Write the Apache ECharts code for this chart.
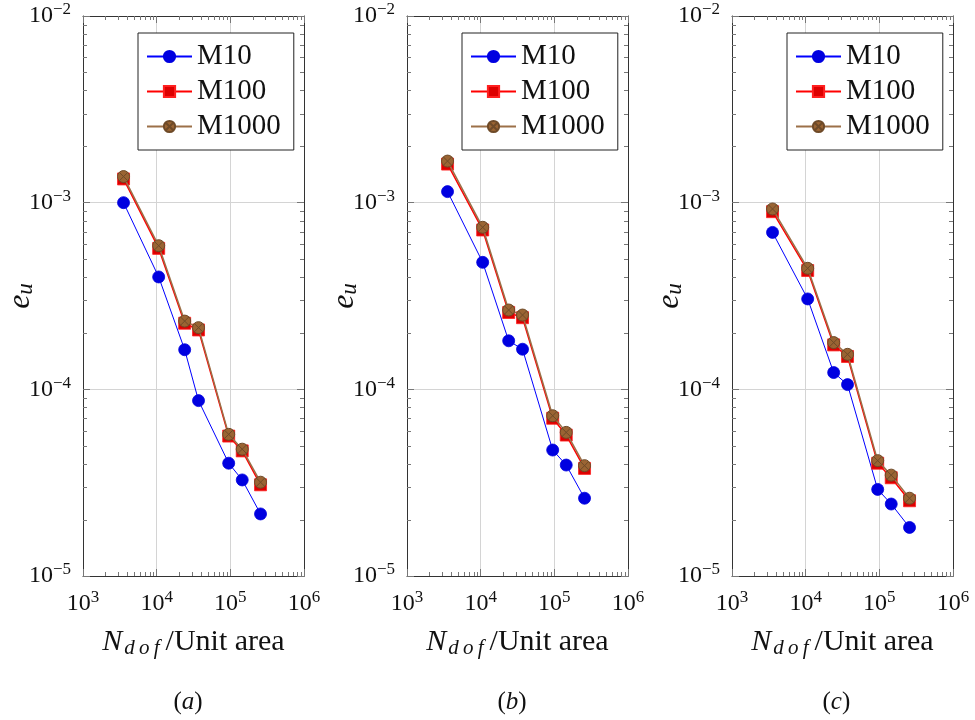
<!DOCTYPE html>
<html>
<head>
<meta charset="utf-8">
<script src="https://cdn.jsdelivr.net/npm/echarts@6/dist/echarts.min.js"></script>
<style>
  html, body { margin: 0; padding: 0; background: #fff; }
  #chart { width: 975px; height: 720px; }
</style>
</head>
<body>
<div id="chart"></div>
<script>
// Degrees of freedom per unit area (shared by all three panels)
const nDof = [3550, 10650, 24000, 37000, 95000, 145000, 257000];

// Panel (a)
const m10A   = [1.0e-3, 4.0e-4, 1.63e-4, 8.7e-5, 4.02e-5, 3.27e-5, 2.15e-5];
const m100A  = [1.34e-3, 5.69e-4, 2.26e-4, 2.08e-4, 5.62e-5, 4.68e-5, 3.08e-5];
const m1000A = [1.38e-3, 5.88e-4, 2.32e-4, 2.14e-4, 5.74e-5, 4.78e-5, 3.18e-5];

// Panel (b)
const m10B   = [1.146e-3, 4.79e-4, 1.82e-4, 1.64e-4, 4.73e-5, 3.93e-5, 2.61e-5];
const m100B  = [1.61e-3, 7.14e-4, 2.58e-4, 2.42e-4, 7.0e-5, 5.69e-5, 3.77e-5];
const m1000B = [1.67e-3, 7.38e-4, 2.66e-4, 2.50e-4, 7.22e-5, 5.88e-5, 3.90e-5];

// Panel (c)
const m10C   = [6.93e-4, 3.05e-4, 1.23e-4, 1.06e-4, 2.91e-5, 2.43e-5, 1.82e-5];
const m100C  = [8.95e-4, 4.33e-4, 1.73e-4, 1.50e-4, 4.02e-5, 3.36e-5, 2.53e-5];
const m1000C = [9.25e-4, 4.45e-4, 1.78e-4, 1.54e-4, 4.15e-5, 3.47e-5, 2.61e-5];

const seriesNames = ['M10', 'M100', 'M1000'];
const panelLetters = ['a', 'b', 'c'];
const panelData = [
  [m10A, m100A, m1000A],
  [m10B, m100B, m1000B],
  [m10C, m100C, m1000C]
];

const xRange = [1e3, 1e6];
const yRange = [1e-5, 1e-2];

const FONT = '"Liberation Serif", "DejaVu Serif", serif';
const gridLefts = [83, 407, 732];
const GRID_TOP = 16, GRID_W = 221, GRID_H = 560;

const otimes = 'path://M0,-10A10,10,0,1,1,0,10A10,10,0,1,1,0,-10ZM-7.07,-7.07L7.07,7.07M7.07,-7.07L-7.07,7.07';

const styles = [
  { color: '#0000ff', fill: '#0000e0', border: '#0000e0', width: 1, symbol: 'circle', size: 12 },
  { color: '#ff0000', fill: '#dd0000', border: '#ff2020', width: 1.5, symbol: 'rect', size: 12 },
  { color: '#9c7048', fill: '#9a6433', border: '#6e4a28', width: 1.5, symbol: otimes, size: 12 }
];

function powLabel(v) {
  const e = Math.round(Math.log10(v));
  const s = e < 0 ? '\u2212' + (-e) : String(e);
  return '{b|10}{s|' + s + '}';
}
const powRich = {
  b: { fontFamily: FONT, fontSize: 24, color: '#111' },
  s: { fontFamily: FONT, fontSize: 17, color: '#111', padding: [0, 0, 12, 0] }
};

// Minor tick values at 2..9 x 10^k inside an axis range
function minorValues(range) {
  const out = [];
  const k0 = Math.round(Math.log10(range[0]));
  const k1 = Math.round(Math.log10(range[1]));
  for (let k = k0; k < k1; k++) {
    for (let m = 2; m <= 9; m++) out.push(m * Math.pow(10, k));
  }
  return out;
}

const grid = [], xAxis = [], yAxis = [], series = [], legend = [], graphic = [];

panelData.forEach((sets, p) => {
  grid.push({
    left: gridLefts[p], top: GRID_TOP, width: GRID_W, height: GRID_H,
    containLabel: false, outerBoundsMode: 'none'
  });

  const common = {
    type: 'log', logBase: 10, gridIndex: p,
    axisLine: { show: true, onZero: false, lineStyle: { color: '#333', width: 1 } },
    axisTick: { show: true, inside: true, length: 7, lineStyle: { color: '#777', width: 1 } },
    minorTick: { show: false }
  };
  // bottom + top x axes
  xAxis.push(Object.assign({}, common, {
    min: xRange[0], max: xRange[1], position: 'bottom',
    axisLabel: { margin: 13, formatter: powLabel, rich: powRich },
    splitLine: { show: true, lineStyle: { color: '#d4d4d4', width: 1 } },
    name: '{n|N}{d|d\u2009o\u2009f}{r|\u2009/Unit area}',
    nameLocation: 'middle', nameGap: 50,
    nameTextStyle: {
      rich: {
        n: { fontFamily: FONT, fontStyle: 'italic', fontSize: 30, color: '#111' },
        d: { fontFamily: FONT, fontStyle: 'italic', fontSize: 21, color: '#111', padding: [12, 0, 0, 2] },
        r: { fontFamily: FONT, fontSize: 30, color: '#111' }
      }
    }
  }));
  xAxis.push(Object.assign({}, common, {
    min: xRange[0], max: xRange[1], position: 'top',
    axisLabel: { show: false }, splitLine: { show: false }
  }));
  // left + right y axes
  yAxis.push(Object.assign({}, common, {
    min: yRange[0], max: yRange[1], position: 'left',
    axisLabel: { margin: 12, formatter: powLabel, rich: powRich },
    splitLine: { show: true, lineStyle: { color: '#d4d4d4', width: 1 } }
  }));
  yAxis.push(Object.assign({}, common, {
    min: yRange[0], max: yRange[1], position: 'right',
    axisLabel: { show: false }, splitLine: { show: false }
  }));

  const xi = 2 * p, yi = 2 * p;

  // minor ticks on all four sides
  const ticks = [];
  minorValues(xRange).forEach(v => ticks.push([v, yRange[0], 0]));
  minorValues(yRange).forEach(v => ticks.push([xRange[0], v, 1]));
  series.push({
    type: 'custom', xAxisIndex: xi, yAxisIndex: yi, silent: true, z: 1,
    data: ticks,
    renderItem: function (params, api) {
      const v0 = api.value(0), v1 = api.value(1), kind = api.value(2);
      const L = 4;
      const st = { stroke: '#777', lineWidth: 1 };
      if (kind === 0) {
        const b = api.coord([v0, yRange[0]]);
        const t = api.coord([v0, yRange[1]]);
        const x = Math.round(b[0]) + 0.5;
        return { type: 'group', children: [
          { type: 'line', shape: { x1: x, y1: b[1], x2: x, y2: b[1] - L }, style: st },
          { type: 'line', shape: { x1: x, y1: t[1], x2: x, y2: t[1] + L }, style: st }
        ]};
      } else {
        const l = api.coord([xRange[0], v1]);
        const r = api.coord([xRange[1], v1]);
        const y = Math.round(l[1]) + 0.5;
        return { type: 'group', children: [
          { type: 'line', shape: { x1: l[0], y1: y, x2: l[0] + L, y2: y }, style: st },
          { type: 'line', shape: { x1: r[0], y1: y, x2: r[0] - L, y2: y }, style: st }
        ]};
      }
    }
  });

  sets.forEach((vals, s) => {
    const st = styles[s];
    series.push({
      type: 'line', name: seriesNames[s], xAxisIndex: xi, yAxisIndex: yi,
      data: nDof.map((x, i) => [x, vals[i]]),
      symbol: st.symbol, symbolSize: st.size, showSymbol: true,
      lineStyle: { color: st.color, width: st.width },
      itemStyle: { color: st.fill, borderColor: st.border, borderWidth: s === 2 ? 1 : 0.8 },
      z: 3 + s, animation: false
    });
  });

  legend.push({
    data: seriesNames.slice(),
    orient: 'vertical',
    left: gridLefts[p] + 55, top: 33,
    backgroundColor: '#fff',
    borderColor: '#222', borderWidth: 1, borderRadius: 0,
    padding: [9, 13, 9, 8],
    itemWidth: 45, itemHeight: 14, itemGap: 6,
    selectedMode: false,
    textStyle: { fontFamily: FONT, fontSize: 29, color: '#111', lineHeight: 29 }
  });

  // y axis title e_u, rotated
  graphic.push({
    type: 'text',
    x: gridLefts[p] - 62, y: 296,
    rotation: Math.PI / 2,
    style: {
      text: '{e|e}{u|u}',
      align: 'center', verticalAlign: 'middle',
      rich: {
        e: { fontFamily: FONT, fontStyle: 'italic', fontSize: 32, fill: '#111' },
        u: { fontFamily: FONT, fontStyle: 'italic', fontSize: 23, fill: '#111', padding: [10, 0, 0, 0] }
      }
    }
  });

  graphic.push({
    type: 'text',
    left: gridLefts[p] + GRID_W / 2 - 20, top: 690,
    style: {
      text: '{p|(}{l|' + panelLetters[p] + '}{p|)}',
      rich: {
        p: { fontFamily: FONT, fontSize: 25, fill: '#111' },
        l: { fontFamily: FONT, fontSize: 25, fontStyle: 'italic', fill: '#111' }
      }
    }
  });
});

const chart = echarts.init(document.getElementById('chart'), null, { renderer: 'canvas' });
chart.setOption({
  animation: false,
  backgroundColor: '#fff',
  grid, xAxis, yAxis, series, legend, graphic
});
</script>
</body>
</html>
